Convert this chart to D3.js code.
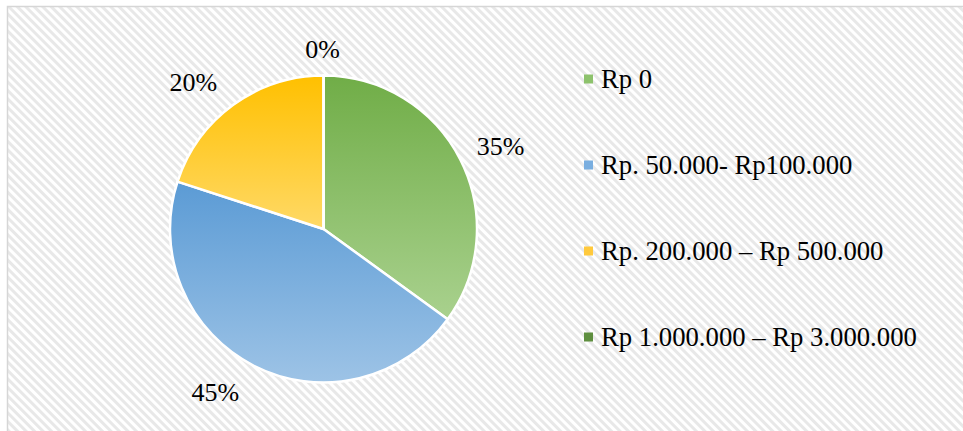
<!DOCTYPE html>
<html>
<head>
<meta charset="utf-8">
<script src="https://cdn.jsdelivr.net/npm/d3@7"></script>
<style>
  html, body { margin: 0; padding: 0; background: #fff; }
  svg { display: block; }
</style>
</head>
<body>
<svg id="chart" width="963" height="431"></svg>
<script>
const categories = ["Rp 0", "Rp. 50.000- Rp100.000", "Rp. 200.000 \u2013 Rp 500.000", "Rp 1.000.000 \u2013 Rp 3.000.000"];
const values = [35, 45, 20, 0];
const valueLabels = ["35%", "45%", "20%", "0%"];
const topColors = ["#70ad47", "#5b9bd5", "#ffc000", "#548235"];
const bottomColors = ["#a9d18e", "#9dc3e6", "#ffd966", "#6a9a48"];
const legendColors = ["#8dc26c", "#79aee0", "#ffc93c", "#5f8f40"];

const svg = d3.select("#chart");
const W = 963, H = 431;
const defs = svg.append("defs");

// hatch pattern (stripes running top-left to bottom-right)
const pat = defs.append("pattern")
  .attr("id", "hatch").attr("patternUnits", "userSpaceOnUse")
  .attr("width", 6).attr("height", 6)
  .attr("patternTransform", "rotate(-45)");
pat.append("rect").attr("width", 6).attr("height", 6).attr("fill", "#ffffff");
pat.append("rect").attr("x", 0).attr("width", 3).attr("height", 6).attr("fill", "#e8e8e8");

svg.append("rect").attr("x", 0).attr("y", 0).attr("width", W).attr("height", H).attr("fill", "#ffffff");
svg.append("rect").attr("x", 7.5).attr("y", 6.5).attr("width", W + 10).attr("height", H + 10)
  .attr("fill", "url(#hatch)").attr("stroke", "#d6d6d6").attr("stroke-width", 1.5);

categories.forEach((c, i) => {
  const g = defs.append("linearGradient").attr("id", "grad" + i)
    .attr("x1", 0).attr("y1", 0).attr("x2", 0).attr("y2", 1);
  g.append("stop").attr("offset", "0%").attr("stop-color", topColors[i]);
  g.append("stop").attr("offset", "100%").attr("stop-color", bottomColors[i]);
});

const cx = 323.5, cy = 229, r = 153.5;
const pie = d3.pie().sort(null).value(d => d)(values);
const arc = d3.arc().innerRadius(0).outerRadius(r);

const gPie = svg.append("g").attr("transform", `translate(${cx},${cy})`);
gPie.selectAll("path").data(pie).join("path")
  .attr("d", arc)
  .attr("fill", (d, i) => `url(#grad${i})`)
  .attr("stroke", "#ffffff").attr("stroke-width", 2.5).attr("stroke-linejoin", "round");

// labels
const labelArc = d3.arc().innerRadius(r + 34).outerRadius(r + 34);
const offsets = [[10, 3], [-23, -4], [-20, 5], [-1, 8]];
gPie.selectAll("text.lbl").data(pie).join("text")
  .attr("class", "lbl")
  .attr("transform", (d, i) => {
    const p = labelArc.centroid(d);
    return `translate(${p[0] + offsets[i][0]},${p[1] + offsets[i][1]})`;
  })
  .attr("text-anchor", "middle").attr("dominant-baseline", "central")
  .attr("font-family", "'Liberation Serif', 'Times New Roman', serif")
  .attr("font-size", 26).attr("fill", "#000")
  .text((d, i) => valueLabels[i]);

// legend
const ly = d3.scalePoint().domain(categories).range([79, 337]);
const lg = svg.append("g");
const items = lg.selectAll("g").data(categories).join("g")
  .attr("transform", d => `translate(584,${ly(d)})`);
items.append("rect").attr("x", 0).attr("y", -4.5).attr("width", 9).attr("height", 9)
  .attr("fill", (d, i) => legendColors[i]);
items.append("text").attr("x", 17).attr("y", 0).attr("dominant-baseline", "central")
  .attr("font-family", "'Liberation Serif', 'Times New Roman', serif")
  .attr("font-size", 26.7).attr("fill", "#000")
  .text(d => d);
</script>
</body>
</html>
